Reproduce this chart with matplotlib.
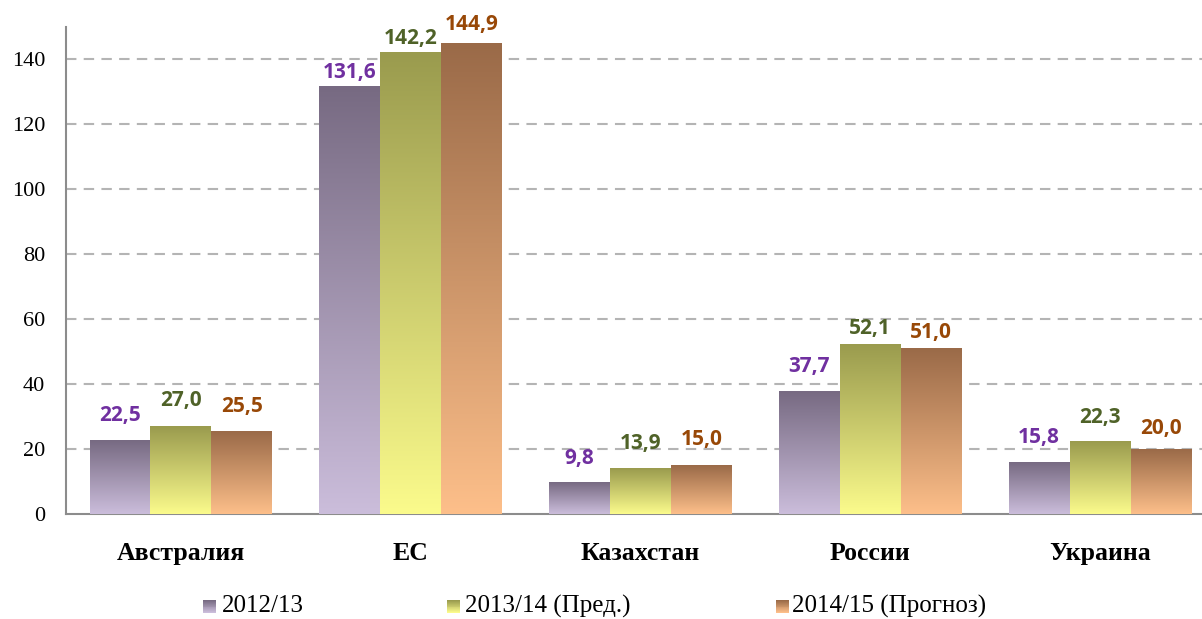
import numpy as np
import matplotlib
matplotlib.use("Agg")
import matplotlib.pyplot as plt
from matplotlib.colors import LinearSegmentedColormap, to_rgb
from matplotlib.patches import Rectangle

categories = ["Австралия", "ЕС", "Казахстан", "России", "Украина"]
series_names = ["2012/13", "2013/14 (Пред.)", "2014/15 (Прогноз)"]
v2012 = [22.5, 131.6, 9.8, 37.7, 15.8]
v2013 = [27.0, 142.2, 13.9, 52.1, 22.3]
v2014 = [25.5, 144.9, 15.0, 51.0, 20.0]
yticks = [0, 20, 40, 60, 80, 100, 120, 140]

# label distance (pixels) from bar top to label centre, as placed in the source
lab_off_2012 = [25.5, 14.5, 23.5, 24.7, 25.0]
lab_off_2013 = [25.5, 14.0, 25.0, 16.5, 24.0]
lab_off_2014 = [24.5, 19.5, 25.5, 15.5, 21.0]

values = [v2012, v2013, v2014]
lab_offs = [lab_off_2012, lab_off_2013, lab_off_2014]
grad_top = ["#776a82", "#9a9b4e", "#9a6a48"]
grad_bot = ["#cbbddb", "#fbfb8c", "#fdbf8a"]
label_colors = ["#7030a0", "#4f6228", "#984807"]

W, H = 1202, 619
fig = plt.figure(figsize=(W / 100, H / 100), dpi=100)
ax = fig.add_axes([66 / W, 105 / H, (1215 - 66) / W, (514 - 27) / H])

n = len(categories)
x = np.arange(n)
w = 0.265
offsets = [-w, 0, w]

for s in range(3):
    cmap = LinearSegmentedColormap.from_list(f"g{s}", [grad_bot[s], grad_top[s]])
    bars = ax.bar(x + offsets[s], values[s], w, color="none", edgecolor="none", zorder=3)
    for b, v, off in zip(bars, values[s], lab_offs[s]):
        x0 = b.get_x()
        grad = np.linspace(0, 1, 256).reshape(-1, 1)
        ax.imshow(grad, extent=(x0, x0 + w, 0, v), origin="lower", cmap=cmap,
                  aspect="auto", zorder=3, interpolation="bilinear")
        ax.annotate(f"{v:.1f}".replace(".", ","), (x0 + w / 2, v),
                    xytext=(0, off * 0.72), textcoords="offset points",
                    ha="center", va="center", color=label_colors[s],
                    fontsize=15, fontweight="bold", family="Open Sans", zorder=4)

ax.set_xlim(-0.5, n - 0.5)
ax.set_ylim(0, 150)

ax.set_yticks(yticks)
ax.set_yticklabels([str(t) for t in yticks], family="Liberation Serif", fontsize=16)
ax.set_xticks(x)
ax.set_xticklabels(categories, family="Liberation Serif", fontsize=18.5, fontweight="bold")
ax.tick_params(axis="both", length=0)
ax.tick_params(axis="x", pad=20)
ax.tick_params(axis="y", pad=15)

for t in yticks[1:]:
    ax.axhline(t, color="#b4b4b4", lw=1.5, ls=(0, (5, 3.5)), zorder=1)

for sp in ["top", "right"]:
    ax.spines[sp].set_visible(False)
for sp in ["left", "bottom"]:
    ax.spines[sp].set_color("#8c8c8c")
    ax.spines[sp].set_linewidth(1.5)

# legend (manual placement)
marker_x = [203, 447, 776]
text_x = [222, 465, 792]
ly = 606
for i in range(3):
    N = 14
    top = np.array(to_rgb(grad_top[i]))
    bot = np.array(to_rgb(grad_bot[i]))
    for k in range(N):
        f = k / (N - 1)
        c = bot * (1 - f) + top * f
        fig.patches.append(Rectangle((marker_x[i] / W, (H - 613 + k * 13 / N) / H),
                                     13 / W, (13 / N + 0.4) / H, facecolor=c,
                                     edgecolor="none", transform=fig.transFigure))
    fig.text(text_x[i] / W, 1 - ly / H, series_names[i], family="Liberation Serif",
             fontsize=18, ha="left", va="center")

fig.savefig("out.png", dpi=100)
